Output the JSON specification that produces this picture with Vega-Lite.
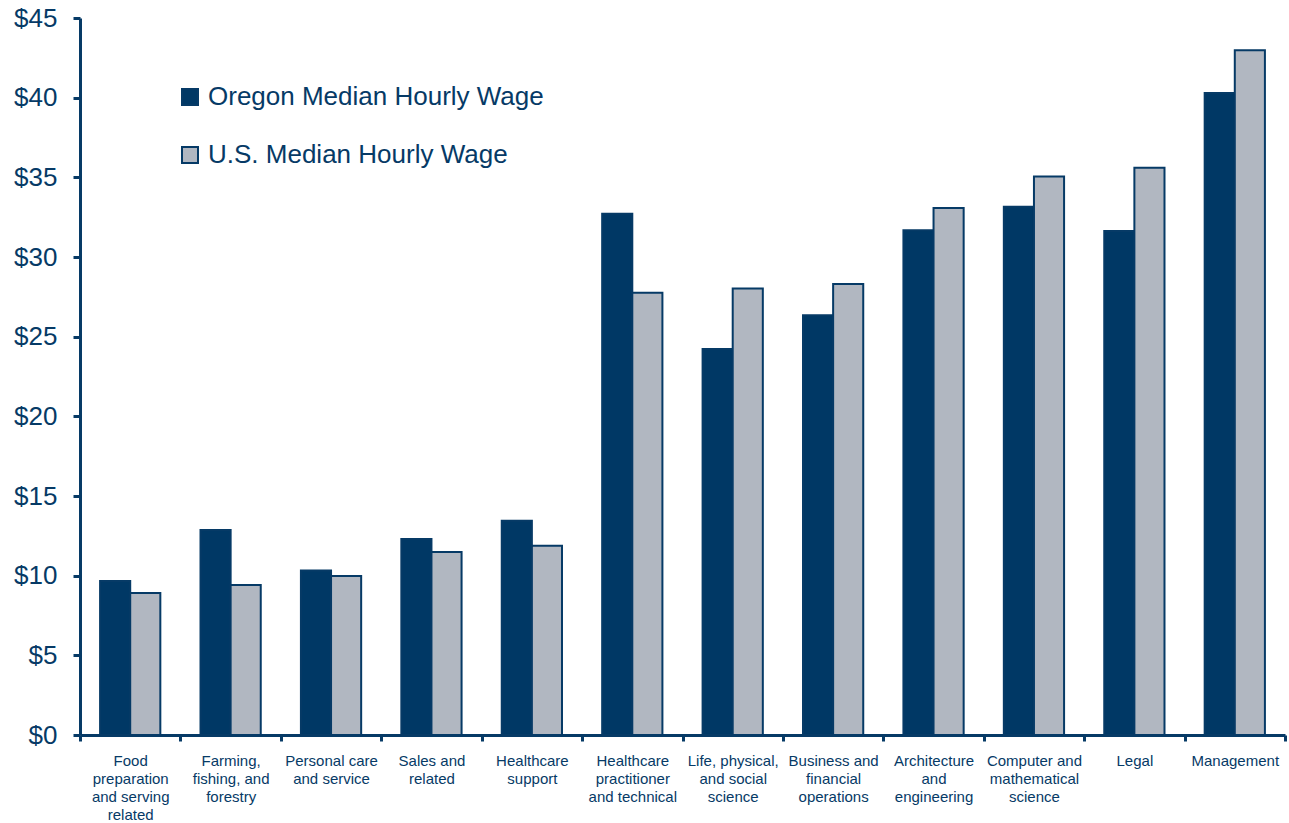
{
  "$schema": "https://vega.github.io/schema/vega-lite/v6.json",
  "width": 1205,
  "height": 717,
  "autosize": {"type": "none"},
  "padding": {"left": 80, "top": 18, "right": 4, "bottom": 88},
  "background": "white",
  "config": {
    "view": {"stroke": null},
    "font": "Liberation Sans"
  },
  "data": {
    "values": [
      {"category": "Food preparation and serving related", "series": "Oregon Median Hourly Wage", "wage": 9.67},
      {"category": "Food preparation and serving related", "series": "U.S. Median Hourly Wage", "wage": 8.91},
      {"category": "Farming, fishing, and forestry", "series": "Oregon Median Hourly Wage", "wage": 12.87},
      {"category": "Farming, fishing, and forestry", "series": "U.S. Median Hourly Wage", "wage": 9.42},
      {"category": "Personal care and service", "series": "Oregon Median Hourly Wage", "wage": 10.32},
      {"category": "Personal care and service", "series": "U.S. Median Hourly Wage", "wage": 9.98},
      {"category": "Sales and related", "series": "Oregon Median Hourly Wage", "wage": 12.3},
      {"category": "Sales and related", "series": "U.S. Median Hourly Wage", "wage": 11.49},
      {"category": "Healthcare support", "series": "Oregon Median Hourly Wage", "wage": 13.45},
      {"category": "Healthcare support", "series": "U.S. Median Hourly Wage", "wage": 11.87},
      {"category": "Healthcare practitioner and technical", "series": "Oregon Median Hourly Wage", "wage": 32.72},
      {"category": "Healthcare practitioner and technical", "series": "U.S. Median Hourly Wage", "wage": 27.75},
      {"category": "Life, physical, and social science", "series": "Oregon Median Hourly Wage", "wage": 24.23},
      {"category": "Life, physical, and social science", "series": "U.S. Median Hourly Wage", "wage": 28.02},
      {"category": "Business and financial operations", "series": "Oregon Median Hourly Wage", "wage": 26.35},
      {"category": "Business and financial operations", "series": "U.S. Median Hourly Wage", "wage": 28.31},
      {"category": "Architecture and engineering", "series": "Oregon Median Hourly Wage", "wage": 31.68},
      {"category": "Architecture and engineering", "series": "U.S. Median Hourly Wage", "wage": 33.08},
      {"category": "Computer and mathematical science", "series": "Oregon Median Hourly Wage", "wage": 33.16},
      {"category": "Computer and mathematical science", "series": "U.S. Median Hourly Wage", "wage": 35.05},
      {"category": "Legal", "series": "Oregon Median Hourly Wage", "wage": 31.63},
      {"category": "Legal", "series": "U.S. Median Hourly Wage", "wage": 35.6},
      {"category": "Management", "series": "Oregon Median Hourly Wage", "wage": 40.3},
      {"category": "Management", "series": "U.S. Median Hourly Wage", "wage": 42.98}
    ]
  },
  "mark": {"type": "bar", "stroke": "#063a66", "strokeWidth": 2},
  "encoding": {
    "x": {
      "field": "category",
      "type": "nominal",
      "sort": null,
      "scale": {"paddingInner": 0, "paddingOuter": 0},
      "axis": {
        "title": null,
        "labelAngle": 0,
        "tickBand": "extent",
        "domainColor": "#063a66",
        "domainWidth": 3,
        "tickColor": "#063a66",
        "tickWidth": 3,
        "tickSize": 6,
        "labelColor": "#063a66",
        "labelFont": "Liberation Sans",
        "labelFontSize": 15,
        "labelLineHeight": 18,
        "labelPadding": 12,
        "labelBaseline": "top",
        "labelLimit": 200,
        "labelExpr": "{'Food preparation and serving related': ['Food','preparation','and serving','related'], 'Farming, fishing, and forestry': ['Farming,','fishing, and','forestry'], 'Personal care and service': ['Personal care','and service'], 'Sales and related': ['Sales and','related'], 'Healthcare support': ['Healthcare','support'], 'Healthcare practitioner and technical': ['Healthcare','practitioner','and technical'], 'Life, physical, and social science': ['Life, physical,','and social','science'], 'Business and financial operations': ['Business and','financial','operations'], 'Architecture and engineering': ['Architecture','and','engineering'], 'Computer and mathematical science': ['Computer and','mathematical','science'], 'Legal': ['Legal'], 'Management': ['Management']}[datum.value]"
      }
    },
    "xOffset": {
      "field": "series",
      "type": "nominal",
      "scale": {"paddingInner": 0, "paddingOuter": 0.667}
    },
    "y": {
      "field": "wage",
      "type": "quantitative",
      "scale": {"domain": [0, 45], "nice": false},
      "axis": {
        "title": null,
        "grid": false,
        "values": [0, 5, 10, 15, 20, 25, 30, 35, 40, 45],
        "labelExpr": "'$' + datum.value",
        "domainColor": "#063a66",
        "domainWidth": 3,
        "tickColor": "#063a66",
        "tickWidth": 3,
        "tickSize": 7,
        "labelColor": "#063a66",
        "labelFont": "Liberation Sans",
        "labelFontSize": 26,
        "labelPadding": 16
      }
    },
    "color": {
      "field": "series",
      "type": "nominal",
      "scale": {
        "domain": ["Oregon Median Hourly Wage", "U.S. Median Hourly Wage"],
        "range": ["#003865", "#b1b7c1"]
      },
      "legend": {
        "title": null,
        "orient": "none",
        "legendX": 97,
        "legendY": 66,
        "symbolType": "square",
        "symbolSize": 256,
        "symbolStrokeColor": "#063a66",
        "symbolStrokeWidth": 2,
        "symbolOpacity": 1,
        "labelFont": "Liberation Sans",
        "labelFontSize": 26,
        "labelColor": "#063a66",
        "labelOffset": 5,
        "labelLimit": 600,
        "rowPadding": 32
      }
    }
  }
}
